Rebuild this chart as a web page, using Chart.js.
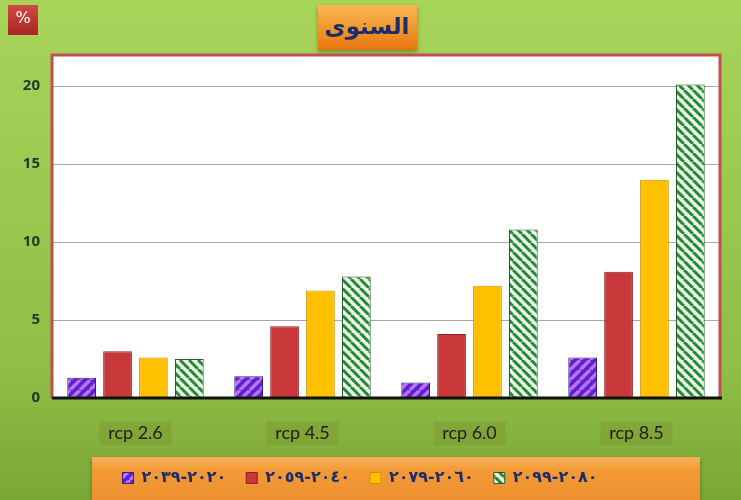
<!DOCTYPE html>
<html>
<head>
<meta charset="utf-8">
<script src="https://cdn.jsdelivr.net/npm/chart.js@4"></script>
<style>
html, body { margin: 0; padding: 0; background: #9cc84e; }
</style>
</head>
<body>
<canvas id="chart" width="741" height="500"></canvas>
<script>
// data
var categories = ['rcp 2.6', 'rcp 4.5', 'rcp 6.0', 'rcp 8.5'];
var periods = ['٢٠٢٠-٢٠٣٩', '٢٠٤٠-٢٠٥٩', '٢٠٦٠-٢٠٧٩', '٢٠٨٠-٢٠٩٩'];
var p2020 = [1.3, 1.4, 1.0, 2.6];
var p2040 = [3.0, 4.6, 4.1, 8.1];
var p2060 = [2.6, 6.9, 7.2, 14.0];
var p2080 = [2.5, 7.8, 10.8, 20.1];
var yTicks = [0, 5, 10, 15, 20];
var title = 'السنوى';
var unit = '%';

var canvas = document.getElementById('chart');
var ctx = canvas.getContext('2d');

// striped fills like the excel patterns
function stripes(bg, fg, size, lw, back) {
    var c = document.createElement('canvas');
    c.width = c.height = size;
    var g = c.getContext('2d');
    g.fillStyle = bg;
    g.fillRect(0, 0, size, size);
    g.strokeStyle = fg;
    g.lineWidth = lw;
    g.beginPath();
    for (var k = -1; k <= 1; k++) {
        if (back) { g.moveTo(k * size, 0); g.lineTo(k * size + size, size); }
        else { g.moveTo(k * size, size); g.lineTo(k * size + size, 0); }
    }
    g.stroke();
    return ctx.createPattern(c, 'repeat');
}

var purple = stripes('#5426d0', '#c46ef2', 10, 3.5, false);
var green = stripes('#eef6e2', '#1f8a3c', 9, 3, true);

var decor = {
    id: 'decor',
    beforeDraw: function (chart) {
        var c = chart.ctx, a = chart.chartArea;
        c.save();
        var bg = c.createLinearGradient(0, 0, 0, 500);
        bg.addColorStop(0, '#a9d45a');
        bg.addColorStop(0.75, '#8fbd45');
        bg.addColorStop(1, '#7aa736');
        c.fillStyle = bg;
        c.fillRect(0, 0, 741, 500);

        // plot area
        c.fillStyle = '#ffffff';
        c.fillRect(a.left, a.top, a.right - a.left, a.bottom - a.top);

        // % box
        var pg = c.createLinearGradient(0, 5, 0, 35);
        pg.addColorStop(0, '#d04a44');
        pg.addColorStop(1, '#a8261f');
        c.fillStyle = pg;
        c.fillRect(8, 5, 30, 30);
        c.fillStyle = '#ffffff';
        c.font = '16px "DejaVu Sans"';
        c.textAlign = 'center';
        c.textBaseline = 'middle';
        c.fillText(unit, 23, 19);

        // title box
        c.shadowColor = 'rgba(0,0,0,0.35)';
        c.shadowOffsetY = 2;
        c.shadowBlur = 4;
        var tg = c.createLinearGradient(0, 5, 0, 50);
        tg.addColorStop(0, '#fbb955');
        tg.addColorStop(1, '#e8760c');
        c.fillStyle = tg;
        c.fillRect(318, 5, 99, 45);

        // legend box
        var lg = c.createLinearGradient(0, 457, 0, 500);
        lg.addColorStop(0, '#f8b25a');
        lg.addColorStop(0.3, '#f29a36');
        lg.addColorStop(1, '#ee9030');
        c.fillStyle = lg;
        c.fillRect(92, 457, 608, 50);
        c.shadowColor = 'transparent';

        c.fillStyle = '#1c2d6e';
        c.font = 'bold 23px "DejaVu Sans"';
        c.fillText(title, 367, 28);

        // darker patches behind category labels
        var x = chart.scales.x;
        c.fillStyle = 'rgba(120, 120, 30, 0.22)';
        for (var i = 0; i < categories.length; i++) {
            var px = x.getPixelForTick(i);
            c.fillRect(px - 36, 421, 72, 24);
        }
        c.restore();
    },
    afterDraw: function (chart) {
        var c = chart.ctx, a = chart.chartArea;
        c.save();
        c.strokeStyle = '#c0504d';
        c.lineWidth = 3;
        c.beginPath();
        c.moveTo(a.left, a.bottom);
        c.lineTo(a.left, a.top);
        c.lineTo(a.right, a.top);
        c.lineTo(a.right, a.bottom);
        c.stroke();
        c.strokeStyle = '#111111';
        c.beginPath();
        c.moveTo(a.left, a.bottom);
        c.lineTo(a.right + 2, a.bottom);
        c.stroke();
        c.restore();
    }
};

var chart = new Chart(ctx, {
    type: 'bar',
    data: {
        labels: categories,
        datasets: [{
            label: periods[0],
            data: p2020,
            backgroundColor: purple,
            borderColor: '#3a1a90',
            borderWidth: 1
        }, {
            label: periods[1],
            data: p2040,
            backgroundColor: '#c8383a',
            borderColor: '#8e1f1f',
            borderWidth: 1
        }, {
            label: periods[2],
            data: p2060,
            backgroundColor: '#ffc000',
            borderColor: '#c99400',
            borderWidth: 1
        }, {
            label: periods[3],
            data: p2080,
            backgroundColor: green,
            borderColor: '#2a5a2a',
            borderWidth: 1
        }]
    },
    options: {
        responsive: false,
        animation: false,
        barPercentage: 0.8,
        categoryPercentage: 0.86,
        layout: { padding: { top: 55, right: 21, left: 0, bottom: 4 } },
        plugins: {
            tooltip: { enabled: false },
            legend: {
                position: 'bottom',
                labels: {
                    boxWidth: 11,
                    boxHeight: 11,
                    padding: 20,
                    color: '#1c2d6e',
                    font: { family: 'DejaVu Sans', size: 16, weight: 'bold' }
                }
            }
        },
        scales: {
            x: {
                grid: { display: false, drawTicks: false },
                border: { display: false },
                afterFit: function (s) { s.height = 52; },
                ticks: {
                    padding: 24,
                    color: '#1e1e1e',
                    font: { family: 'Lato', size: 18 }
                }
            },
            y: {
                min: 0,
                max: 22,
                afterFit: function (s) { s.width = 52; },
                afterBuildTicks: function (s) {
                    s.ticks = yTicks.map(function (v) { return { value: v }; });
                },
                grid: { color: '#a8a8a8', lineWidth: 1, drawTicks: false },
                border: { display: false },
                ticks: {
                    padding: 12,
                    color: '#1d3a28',
                    font: { family: 'Open Sans', size: 15, weight: 'bold' }
                }
            }
        }
    },
    plugins: [decor]
});
</script>
</body>
</html>
